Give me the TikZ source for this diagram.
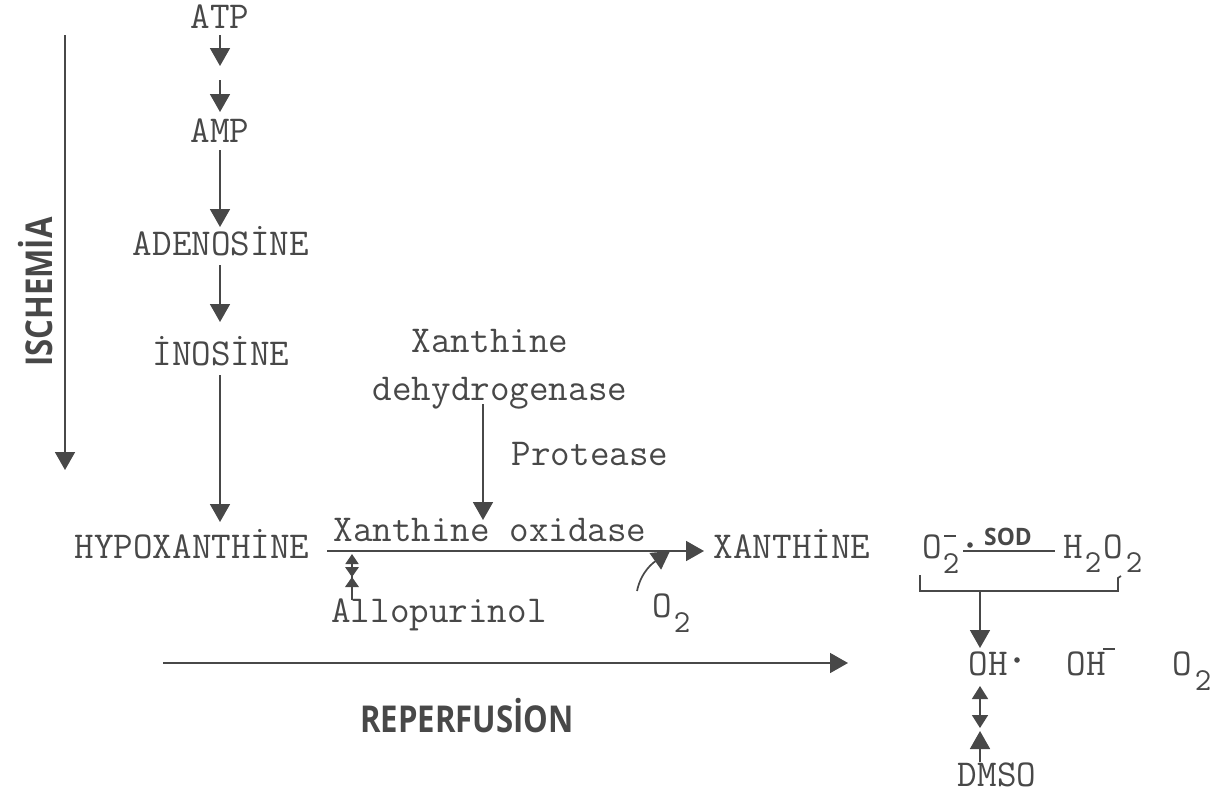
\documentclass[tikz,border=0pt]{standalone}
\usepackage{fontspec}
\newfontfamily\handfont{Open Sans}
\usetikzlibrary{arrows.meta}
\definecolor{ink}{HTML}{484848}
\tikzset{
  tw/.style={font=\fontsize{38}{40}\selectfont\ttfamily, text=ink, inner sep=0pt, anchor=base},
  sub/.style={font=\fontsize{32}{34}\selectfont\ttfamily, text=ink, inner sep=0pt, anchor=base},
  hand/.style={font=\fontsize{37}{40}\selectfont\handfont\bfseries, text=ink, inner sep=0pt},
  arr/.style={draw=ink, line width=1.7pt, -{Triangle[width=20pt,length=18pt]}},
  ln/.style={draw=ink, line width=1.7pt},
}
\begin{document}
\begin{tikzpicture}[x=1pt,y=-1pt]
\useasboundingbox (0,0) rectangle (1218,793);
% main column
\node[tw] (atp) at (220,28) {ATP};
\node[tw] (amp) at (220,142) {AMP};
\node[tw] (ade) at (221,255) {ADENOSİNE};
\node[tw] (ino) at (221,365) {İNOSİNE};
\node[tw] (hyp) at (192,558) {HYPOXANTHİNE};
\coordinate (m1) at (220,66);
\coordinate (m2) at (220,80);
\draw[arr] (atp.south |- 0,35) -- (m1);
\draw[arr] (m2) -- (amp.north |- 0,112);
\draw[arr] (220,150) -- (220,227);
\draw[arr] (220,265) -- (220,322);
\draw[arr] (220,375) -- (220,522);
% xanthine dehydrogenase
\node[tw] (xd) at (490,352) {Xanthine};
\node[tw] (dh) at (500,400) {dehydrogenase};
\node[tw] (pr) at (590,465) {Protease};
\draw[arr] (483,404) -- (483,520);
% main reaction
\coordinate (ms) at (327,551);
\coordinate (me) at (704,551);
\draw[arr] (ms) -- (me);
\node[tw] (xo) at (490,541) {Xanthine oxidase};
\node[tw] (xan) at (792,558) {XANTHİNE};
\node[tw] (allo) at (439,622) {Allopurinol};
\coordinate (ab) at (352,600);
\coordinate (at) at (352,554);
\draw[draw=ink, line width=1.7pt, -{Triangle[width=13pt,length=10pt]}] (ab) -- (at);
\fill[ink] (345,567) -- (359,567) -- (352,577) -- cycle
           (345,587) -- (359,587) -- (352,577) -- cycle;
\node[tw] (o2a) at (662,617) {O};
\node[sub] at (682,632) {2};
\coordinate (cs) at (637,591);
\coordinate (ce) at (670,551);
\draw[arr] (cs) to[out=78,in=215] (ce);
% reperfusion / ischemia
\draw[arr] (163,663) -- (848,663);
\node[hand, xscale=0.84] (rep) at (467,716) {REPERFUSİON};
\draw[arr] (65,35) -- (65,470);
\node[hand, rotate=90, xscale=0.84] (isc) at (36,292) {ISCHEMİA};
% right side
\node[tw] (o2r) at (932,558) {O};
\node[sub] at (951,573) {2};
\draw[draw=ink, line width=2.2pt] (944,536) -- (956,536);
\fill[ink] (970,545) circle (2.8pt);
\draw[ln] (963,551) -- (1055,551);
\node[font=\fontsize{24}{24}\selectfont\handfont\bfseries, text=ink, inner sep=0pt, xscale=0.95] (sod) at (1008,537) {SOD};
\node[tw] (hh) at (1073,558) {H};
\node[sub] at (1093,572) {2};
\node[tw] (oo) at (1113,558) {O};
\node[sub] at (1134,572) {2};
\coordinate (bl) at (920,575);
\coordinate (br) at (1121,576);
\coordinate (bm) at (980,591);
\draw[ln] (bl) -- (920,591) -- (1118,591) -- (1118,578) -- (br);
\node[tw] (oh) at (988,675) {OH};
\fill[ink] (1017,660) circle (2.8pt);
\node[tw] (ohm) at (1086,675) {OH};
\draw[draw=ink, line width=2.2pt] (1103,649) -- (1115,649);
\node[tw] (o2b) at (1182,675) {O};
\node[sub] at (1203,690) {2};
\draw[arr] (bm) -- (980,648);
\draw[draw=ink, line width=1.7pt, {Triangle[width=16pt,length=13pt]}-{Triangle[width=16pt,length=13pt]}] (980,686) -- (980,728);
\node[tw] (dmso) at (997,786) {DMSO};
\draw[arr] (980,762) -- (980,731);
\end{tikzpicture}
\end{document}
